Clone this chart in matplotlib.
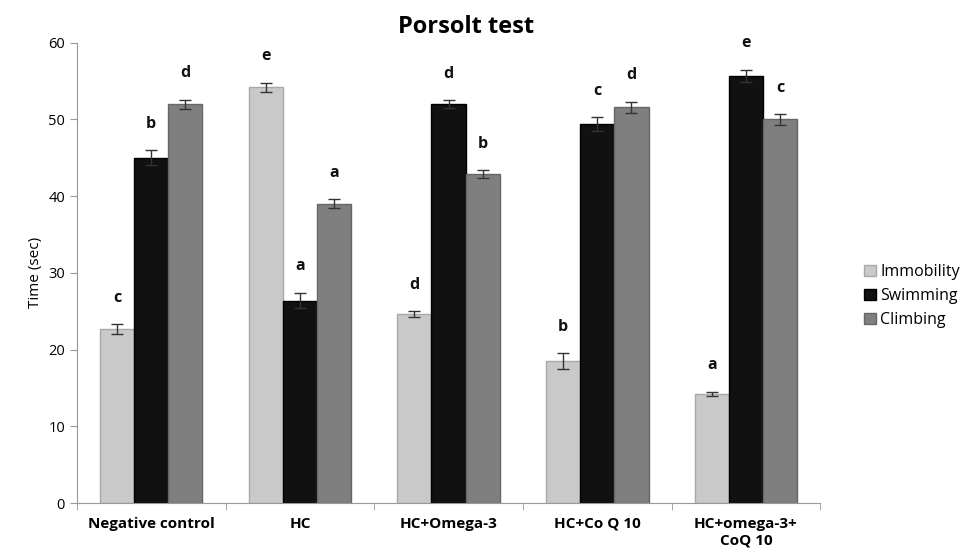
import matplotlib
matplotlib.use("Agg")
import matplotlib.pyplot as plt
import numpy as np

categories = ["Negative control", "HC", "HC+Omega-3", "HC+Co Q 10", "HC+omega-3+\nCoQ 10"]
series = ["Immobility", "Swimming", "Climbing"]
immobility = [22.7, 54.2, 24.6, 18.5, 14.2]
swimming = [45.0, 26.4, 52.0, 49.4, 55.7]
climbing = [52.0, 39.0, 42.9, 51.6, 50.0]
immobility_err = [0.6, 0.6, 0.4, 1.0, 0.3]
swimming_err = [1.0, 1.0, 0.5, 0.9, 0.8]
climbing_err = [0.6, 0.6, 0.5, 0.7, 0.7]
immobility_lbl = ["c", "e", "d", "b", "a"]
swimming_lbl = ["b", "a", "d", "c", "e"]
climbing_lbl = ["d", "a", "b", "d", "c"]
yticks = [0, 10, 20, 30, 40, 50, 60]

plt.rcParams['font.family'] = ['Open Sans', 'DejaVu Sans']

fig = plt.figure(figsize=(9.73, 5.48), dpi=100)
ax = fig.add_axes([0.079, 0.082, 0.764, 0.840])

vals = [immobility, swimming, climbing]
errs = [immobility_err, swimming_err, climbing_err]
lbls = [immobility_lbl, swimming_lbl, climbing_lbl]
colors = ["#c9c9c9", "#111111", "#7f7f7f"]
edges = ["#a8a8a8", "#000000", "#666666"]
x = np.arange(len(categories))
w = 0.23
for i in range(3):
    pos = x + (i - 1) * w
    ax.bar(pos, vals[i], w, color=colors[i], edgecolor=edges[i], linewidth=1.0,
           label=series[i], zorder=2)
    ax.errorbar(pos, vals[i], yerr=errs[i], fmt='none', ecolor='#333333',
                elinewidth=1.0, capsize=4, capthick=1.0, zorder=3)
    for p, v, e, t in zip(pos, vals[i], errs[i], lbls[i]):
        ax.text(p, v + e + 2.4, t, ha='center', va='bottom', fontsize=11.5,
                fontweight='bold', color='#111111')

ax.set_xlim(-0.5, len(categories) - 0.5)
ax.set_ylim(0, 60)
ax.set_yticks(yticks)
ax.tick_params(axis='y', labelsize=10.5, length=5, color='#999999', direction='out')
ax.set_xticks(x)
ax.set_xticklabels(categories, fontsize=11, fontweight='bold')
ax.tick_params(axis='x', length=0, pad=10)
ax.set_xticks(np.arange(len(categories) + 1) - 0.5, minor=True)
ax.tick_params(axis='x', which='minor', length=5, color='#999999')
for s in ['top', 'right']:
    ax.spines[s].set_visible(False)
for s in ['left', 'bottom']:
    ax.spines[s].set_color('#999999')
ax.set_ylabel("Time (sec)", fontsize=11)
ax.set_title("Porsolt test", fontsize=17, fontweight='bold', pad=7, x=0.523)

ax.legend(loc='center left', bbox_to_anchor=(1.04, 0.45), frameon=False,
          fontsize=11.5, handlelength=0.7, handleheight=0.7, handletextpad=0.3,
          labelspacing=0.5)

fig.savefig("out.png", dpi=100)
